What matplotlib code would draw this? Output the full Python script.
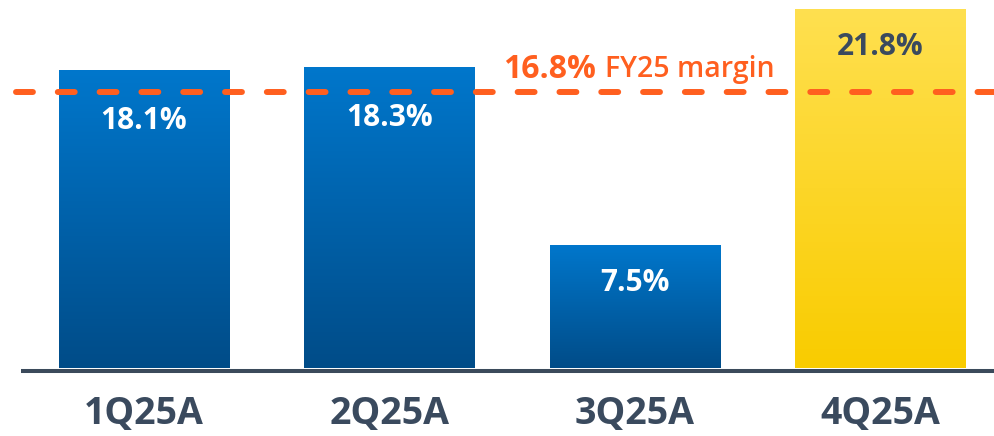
import matplotlib
matplotlib.use('Agg')
import matplotlib.pyplot as plt
import numpy as np
from matplotlib.colors import LinearSegmentedColormap

# data
quarters = ['1Q25A', '2Q25A', '3Q25A', '4Q25A']
margins = [18.1, 18.3, 7.5, 21.8]
fy_margin = 16.8
highlight = [False, False, False, True]

plt.rcParams['font.family'] = ['Open Sans', 'DejaVu Sans']

fig = plt.figure(figsize=(9.95, 4.36), dpi=100)
ax = fig.add_axes([0, 67.5 / 436, 1, 368.5 / 436])

x = np.arange(len(quarters))
bars = ax.bar(x, margins, width=0.693, color='none', zorder=2)

blue = LinearSegmentedColormap.from_list('b', ['#014c88', '#0077cc'])
gold = LinearSegmentedColormap.from_list('g', ['#f9cc00', '#ffe050'])
grad = np.linspace(0, 1, 256).reshape(-1, 1)

for bar, hl in zip(bars, highlight):
    x0, y0 = bar.get_x(), bar.get_y()
    w, h = bar.get_width(), bar.get_height()
    im = ax.imshow(grad, cmap=gold if hl else blue, origin='lower', aspect='auto',
                   extent=(x0, x0 + w, y0, y0 + h), zorder=1)
    im.set_clip_path(bar)

ax.set_xlim(-0.587, 3.469)
ax.set_ylim(0, 22.35)

# value labels (pushed below the FY line when they would touch it)
for xi, v, hl in zip(x, margins, highlight):
    off = 3.1 if 0 < v - fy_margin < 2.5 else 2.3
    ax.text(xi, v - off, f'{v}%', ha='center', va='center', fontsize=21.5,
            fontweight='bold', color='#3a4a5e' if hl else 'white', zorder=4)

# FY margin dashed line
ax.plot([-0.522, 3.469], [fy_margin, fy_margin], color='#ff5f1f', lw=4.3,
        dashes=(2.83, 4.17), dash_capstyle='round', clip_on=False, zorder=5)
ax.text(1.463, fy_margin + 1.32, f'{fy_margin}%', ha='left', va='center',
        fontsize=23, fontweight='bold', color='#ff5f1f')
ax.text(1.879, fy_margin + 1.32, 'FY25 margin', ha='left', va='center',
        fontsize=20.5, fontweight='semibold', color='#ff5f1f')

# baseline
ax.plot([-0.501, 3.469], [-0.15, -0.15], color='#3b4a5b', lw=2.9, clip_on=False,
        solid_capstyle='butt', zorder=3)

for s in ax.spines.values():
    s.set_visible(False)
ax.set_yticks([])
ax.set_xticks(x)
ax.set_xticklabels(quarters, fontsize=27, fontweight='bold', color='#3a4a5e')
ax.tick_params(axis='x', length=0, pad=19)

fig.savefig('out.png', dpi=100)
